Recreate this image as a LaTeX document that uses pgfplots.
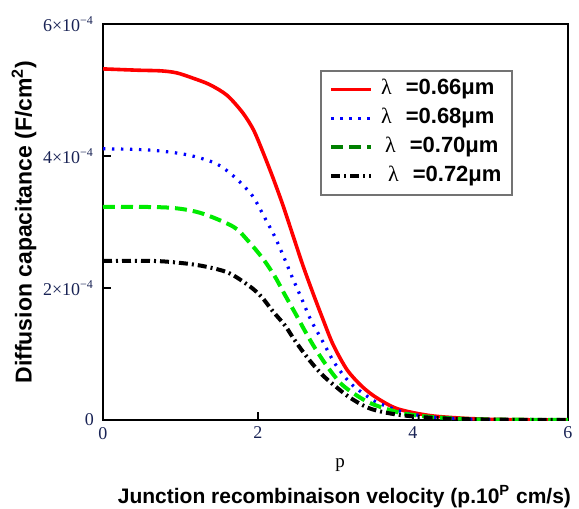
\documentclass[border=0pt]{standalone}
\usepackage{fontspec}
\setmainfont{Liberation Serif}
\setsansfont{Liberation Sans}
\usepackage{pgfplots}
\pgfplotsset{compat=1.18}
\definecolor{tickcol}{RGB}{25,35,85}
\definecolor{legGreen}{RGB}{0,128,0}
\definecolor{plotGreen}{RGB}{0,235,0}

\begin{document}
\begin{tikzpicture}
\path[use as bounding box] (-51.5pt,-44.5pt) rectangle (238pt,210pt);
\begin{axis}[
    at={(0,0)}, anchor=south west,
    width=232.5pt, height=198pt, scale only axis,
    xmin=0, xmax=6, ymin=0, ymax=6e-4,
    xtick={0,2,4,6}, xticklabels={0,2,4,6},
    ytick={0,2e-4,4e-4,6e-4},
    yticklabels={0,2×10\textsuperscript{−4},4×10\textsuperscript{−4},6×10\textsuperscript{−4}},
    scaled y ticks=false,
    tick pos=left, tick align=inside,
    major tick length=4pt,
    tick style={black, line width=0.7pt},
    axis line style={line width=0.8pt},
    ticklabel style={font=\fontsize{9}{10}\selectfont, text=tickcol},
    yticklabel style={xshift=-1pt},
    xlabel={p},
    xlabel style={at={(axis description cs:0.51,-0.114)}, anchor=center,
        font=\fontsize{9.5}{11}\selectfont},
    ylabel={Diffusion capacitance (F/cm\textsuperscript{2})},
    ylabel style={at={(axis description cs:-0.17,0.5)}, anchor=center,
        font=\fontsize{11.5}{13}\selectfont\sffamily\bfseries},
    legend style={at={(axis description cs:0.467,0.884)}, anchor=north west,
        draw=black!55, line width=1pt, fill=white,
        font=\fontsize{11}{12}\selectfont\sffamily\bfseries,
        inner xsep=4pt, inner ysep=3pt, row sep=2pt,
        nodes={inner sep=1pt, text height=8pt, text depth=2.5pt}},
    legend cell align=left,
    legend image code/.code={\draw[#1] (0pt,0pt) -- (20pt,0pt);},
]
\addplot[red, line width=1.8pt, smooth, forget plot] coordinates {
 (0,5.32e-4)(0.45,5.30e-4)(0.75,5.29e-4)(0.95,5.26e-4)(1.16,5.18e-4)(1.38,5.08e-4)
 (1.6,4.92e-4)(1.8,4.66e-4)(1.94,4.40e-4)(2.06,4.07e-4)(2.19,3.68e-4)(2.32,3.26e-4)
 (2.45,2.80e-4)(2.58,2.34e-4)(2.71,1.92e-4)(2.84,1.52e-4)(2.97,1.14e-4)(3.15,0.76e-4)
 (3.35,0.50e-4)(3.54,0.33e-4)(3.8,0.17e-4)(4.2,0.07e-4)(4.6,0.03e-4)(5.0,0.01e-4)
 (5.5,0.003e-4)(6.0,0.001e-4)};
\addplot[blue, line width=1.6pt, dash pattern=on 1.2pt off 3.3pt, smooth, forget plot] coordinates {
 (0,4.11e-4)(0.6,4.09e-4)(1.08,4.02e-4)(1.45,3.89e-4)(1.68,3.70e-4)(1.92,3.41e-4)
 (2.08,3.08e-4)(2.22,2.77e-4)(2.34,2.45e-4)(2.45,2.14e-4)(2.57,1.82e-4)(2.68,1.52e-4)
 (2.84,1.18e-4)(2.99,0.86e-4)(3.19,0.56e-4)(3.42,0.35e-4)(3.55,0.26e-4)(3.87,0.12e-4)
 (4.2,0.05e-4)(4.6,0.02e-4)(5.0,0.008e-4)(6.0,0.001e-4)};
\addplot[plotGreen, line width=2pt, dash pattern=on 6pt off 3pt, smooth, forget plot] coordinates {
 (0,3.23e-4)(0.82,3.22e-4)(1.25,3.14e-4)(1.68,2.93e-4)(1.86,2.73e-4)(2.06,2.45e-4)
 (2.22,2.17e-4)(2.35,1.89e-4)(2.48,1.62e-4)(2.61,1.34e-4)(2.74,1.08e-4)(2.9,0.80e-4)
 (3.08,0.54e-4)(3.29,0.36e-4)(3.48,0.24e-4)(3.83,0.11e-4)(4.2,0.05e-4)(4.6,0.02e-4)
 (5.0,0.008e-4)(6.0,0.001e-4)};
\addplot[black, line width=2pt, dash pattern=on 4.5pt off 2pt on 1pt off 2pt, smooth, forget plot] coordinates {
 (0,2.41e-4)(0.65,2.41e-4)(1.0,2.38e-4)(1.3,2.33e-4)(1.62,2.23e-4)(1.9,2.02e-4)
 (2.05,1.86e-4)(2.19,1.65e-4)(2.35,1.43e-4)(2.45,1.25e-4)(2.57,1.05e-4)(2.71,0.84e-4)
 (2.86,0.65e-4)(3.02,0.49e-4)(3.16,0.36e-4)(3.34,0.23e-4)(3.48,0.16e-4)(3.7,0.10e-4)
 (3.95,0.06e-4)(4.3,0.03e-4)(4.7,0.012e-4)(5.2,0.004e-4)(6.0,0.001e-4)};
\addlegendimage{red, line width=1.8pt}
\addlegendentry{\hspace{3pt}{\rmfamily\mdseries λ}\hspace{7pt}=0.66μm}
\addlegendimage{blue, line width=1.6pt, dash pattern=on 1.2pt off 3.3pt}
\addlegendentry{\hspace{3pt}{\rmfamily\mdseries λ}\hspace{7pt}=0.68μm}
\addlegendimage{legGreen, line width=2pt, dash pattern=on 6pt off 3pt}
\addlegendentry{\hspace{5pt}{\rmfamily\mdseries λ}\hspace{7pt}=0.70μm}
\addlegendimage{black, line width=2pt, dash pattern=on 4.5pt off 2pt on 1pt off 2pt}
\addlegendentry{\hspace{6.5pt}{\rmfamily\mdseries λ}\hspace{7pt}=0.72μm}
\end{axis}
\node[font=\fontsize{10.5}{12}\selectfont\sffamily\bfseries, anchor=center]
  at (120.7pt,-38.4pt)
  {Junction recombinaison velocity (p.10\textsuperscript{P} cm/s)};
\end{tikzpicture}
\end{document}
